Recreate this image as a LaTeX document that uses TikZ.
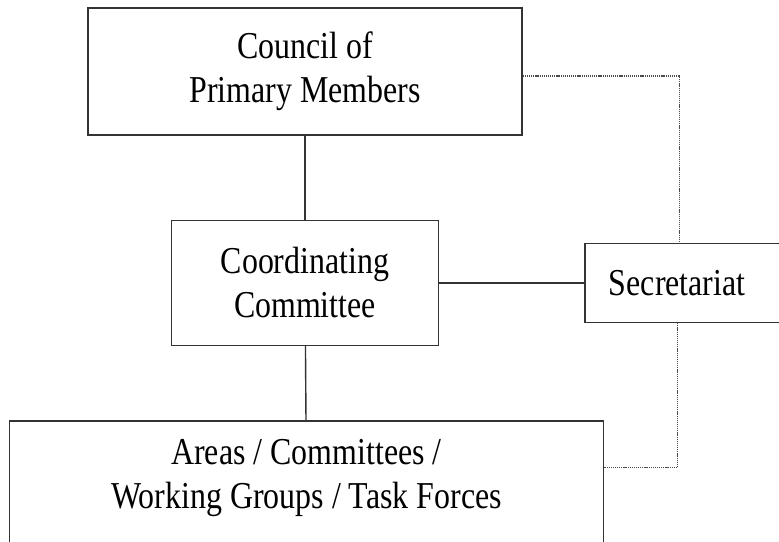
\documentclass[tikz,border=0pt]{standalone}
\usepackage{fontspec}
\setmainfont{Liberation Serif}[FakeStretch=0.84]
\usetikzlibrary{positioning}

\begin{document}
\begin{tikzpicture}[x=1pt,y=-1pt,font=\fontsize{38}{44}\selectfont,
  b/.style={draw=black!80,line width=1.4pt,align=center,inner sep=0pt},
  link/.style={draw=black!70,line width=1.2pt,dash pattern=on 1.2pt off 0.9pt}]
\clip (0,0) rectangle (779,541);
\node[b,minimum width=434pt,minimum height=127pt] (council) at (305,71.5) {Council of\\Primary Members};
\node[b,minimum width=267pt,minimum height=125pt,below=84pt of council] (coord) {Coordinating\\Committee};
\node[b,minimum height=79pt,text width=176pt,align=left,inner xsep=24pt,right=145pt of coord] (secr) {Secretariat};
\node[b,minimum width=594pt,minimum height=140pt,below=74pt of coord,xshift=1.5pt] (areas) {};
\node[align=center,below=16pt of areas.north] (areastxt) {Areas / Committees /\\Working Groups / Task Forces};
\coordinate (tap) at ([xshift=95pt]secr.west);
\draw[line width=1.4pt,black!80] (council)--(coord);
\draw[line width=1.4pt,black!80] (coord)--(areas);
\draw[line width=1.4pt,black!80] (coord)--(secr);
\draw[link] ([yshift=-4.5pt]council.east) -| (tap |- secr.north);
\draw[link] ([xshift=-2pt]tap |- secr.south) |- ([yshift=23pt]areas.east);
\end{tikzpicture}
\end{document}
